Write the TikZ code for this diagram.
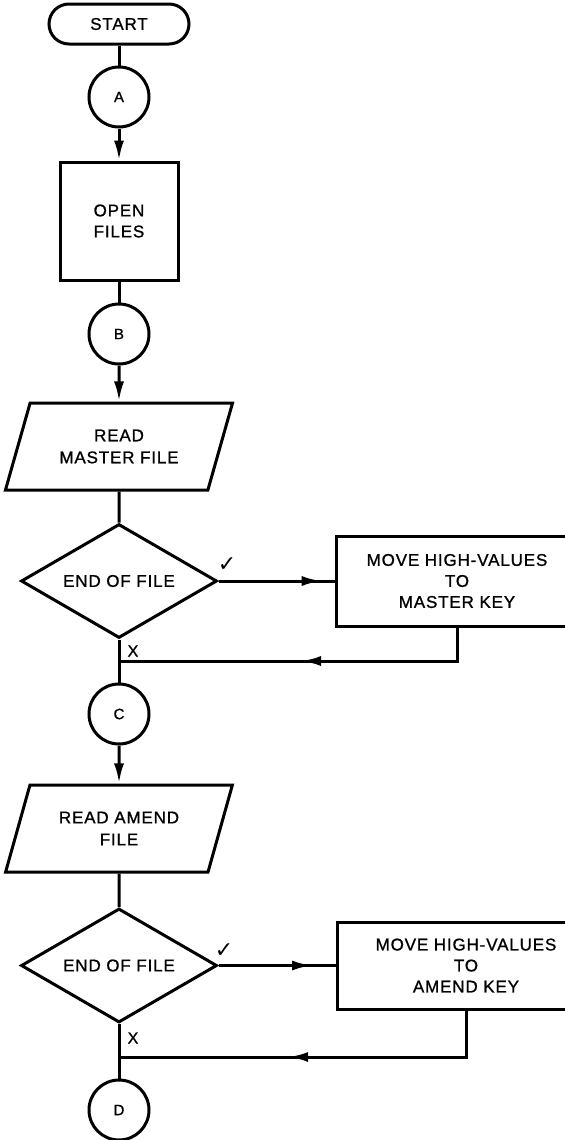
\documentclass[tikz,border=0pt]{standalone}
\usepackage{fontspec}
\setmainfont{Liberation Sans}[LetterSpace=5, FakeBold=1]
\newfontfamily\simbolos{DejaVu Sans}
\usepackage{tikz}
\usetikzlibrary{arrows.meta,positioning,calc,shapes.geometric,decorations.markings}
\tikzset{>={Latex[length=10pt,width=5pt]}}
\tikzset{
  flujo/.style={line width=1.5pt},
  inicio/.style={draw, line width=1.5pt, rounded corners=10pt, minimum width=70pt,
    minimum height=20pt, inner sep=0pt, font=\fontsize{8.5}{10}\selectfont},
  conector/.style={draw, circle, line width=1.5pt, minimum size=30pt, inner sep=0pt,
    font=\fontsize{7.5}{9}\selectfont},
  proceso/.style={draw, rectangle, line width=1.5pt, align=center, inner sep=0pt,
    font=\fontsize{8.5}{10.5}\selectfont},
  lectura/.style={draw, trapezium, trapezium left angle=64, trapezium right angle=116,
    trapezium stretches=true, minimum width=114pt, minimum height=43.5pt, inner sep=0pt,
    line width=1.5pt, align=center, font=\fontsize{8.5}{11}\selectfont},
  decision/.style={draw, diamond, aspect=2, minimum width=98pt, minimum height=57pt,
    inner sep=0pt, line width=1.5pt, font=\fontsize{8.5}{10}\selectfont},
  marca/.style={inner sep=0pt, font=\fontsize{8}{9}\selectfont},
  flechamedio/.style={postaction={decorate},
    decoration={markings, mark=at position #1 with {\arrow{>}}}},
}

\begin{document}
\begin{tikzpicture}[x=0.5pt, y=-0.5pt]

% Marco de la figura (en pixeles de la imagen)
\useasboundingbox (0,0) rectangle (565,1140);

% Inicio y apertura
\node[inicio] (start) at (119,24) {START};
\node[conector] (conA) at (119,97) {A};
\node[proceso, minimum width=59pt, minimum height=59pt] (open) at (119,221) {OPEN\\FILES};
\node[conector] (conB) at (119,334) {B};

% Lectura del fichero maestro
\node[lectura] (readM) at (119,446.5) {READ\\MASTER FILE};
\node[decision] (endM) at (119,581) {END OF FILE};
\node[proceso, minimum width=121pt, minimum height=45pt] (moveM) at (457,581)
  {MOVE HIGH-VALUES\\TO\\MASTER KEY};
\node[marca] (siM) at (227,565) {\simbolos\fontsize{11}{12}\selectfont ✓};
\node[marca] (noM) at (133,651) {X};
\coordinate (joinM) at (119,661);
\node[conector] (conC) at (119,714) {C};

% Lectura del fichero de altas
\node[lectura] (readA) at (119,828.5) {READ AMEND\\FILE};
\node[decision] (endA) at (119,965.5) {END OF FILE};
\node[proceso, minimum width=129pt, minimum height=43.5pt] (moveA) at (466,965.5)
  {MOVE HIGH-VALUES\\TO\\AMEND KEY};
\node[marca] (siA) at (224,951) {\simbolos\fontsize{11}{12}\selectfont ✓};
\node[marca] (noA) at (133,1038) {X};
\coordinate (joinA) at (119,1057);
\node[conector] (conD) at (119,1110) {D};

% Conexiones
\draw[flujo] (start) -- (conA);
\draw[flujo,->] (conA) -- (open);
\draw[flujo] (open) -- (conB);
\draw[flujo,->] (conB) -- (readM);
\draw[flujo] (readM) -- (endM);
\draw[flujo, flechamedio=0.89] (endM.east) -- (moveM.west);
\draw[flujo, flechamedio=0.51] (moveM.south) |- (joinM);
\draw[flujo] (endM.south) -- (conC);
\draw[flujo,->] (conC) -- (readA);
\draw[flujo] (readA) -- (endA);
\draw[flujo, flechamedio=0.8] (endA.east) -- (moveA.west);
\draw[flujo, flechamedio=0.57] (moveA.south) |- (joinA);
\draw[flujo] (endA.south) -- (conD);

\end{tikzpicture}
\end{document}
